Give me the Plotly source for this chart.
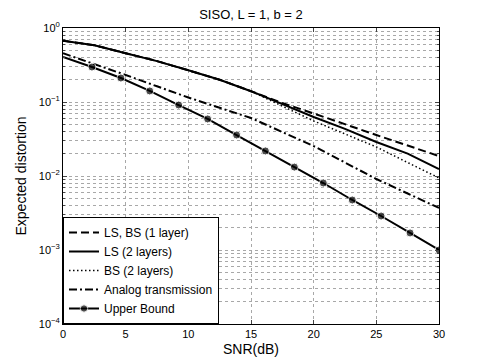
import plotly.graph_objects as go

# SNR grid (dB) used for the layered schemes
snr = [0, 2.5, 5, 7.5, 10, 12.5, 15, 17.5, 20, 22.5, 25, 27.5, 30]
ls_bs_1layer = [0.673, 0.585, 0.457, 0.357, 0.268, 0.200, 0.140, 0.0969, 0.0700, 0.0497, 0.0358, 0.0258, 0.0186]
ls_2layers = [0.673, 0.585, 0.457, 0.357, 0.268, 0.200, 0.140, 0.0940, 0.0627, 0.0434, 0.0288, 0.0201, 0.0124]
bs_2layers = [0.673, 0.585, 0.457, 0.357, 0.268, 0.200, 0.140, 0.0883, 0.0554, 0.0370, 0.0247, 0.0152, 0.0094]
analog = [0.455, 0.326, 0.232, 0.163, 0.115, 0.0835, 0.0608, 0.0393, 0.0254, 0.0152, 0.0091, 0.0058, 0.0037]

# Upper bound (marked curve)
snr_ub = [0, 2.31, 4.62, 6.92, 9.23, 11.54, 13.85, 16.15, 18.46, 20.77, 23.08, 25.38, 27.69, 30]
upper_bound = [0.405, 0.297, 0.211, 0.141, 0.091, 0.059, 0.0358, 0.0218, 0.0132, 0.00804, 0.00474, 0.00288, 0.00170, 0.00100]

x_ticks = [0, 5, 10, 15, 20, 25, 30]
y_ticks = [1e-4, 1e-3, 1e-2, 1e-1, 1]
y_labels = ['10<sup>−4</sup>', '10<sup>−3</sup>', '10<sup>−2</sup>', '10<sup>−1</sup>', '10<sup>0</sup>']

FONT = 'Liberation Sans, Arial, sans-serif'

fig = go.Figure()
fig.add_trace(go.Scatter(x=snr, y=ls_bs_1layer, mode='lines', name='LS, BS (1 layer)',
                         line=dict(color='black', width=2, dash='8px,4px')))
fig.add_trace(go.Scatter(x=snr, y=ls_2layers, mode='lines', name='LS (2 layers)',
                         line=dict(color='black', width=2)))
fig.add_trace(go.Scatter(x=snr, y=bs_2layers, mode='lines', name='BS (2 layers)',
                         line=dict(color='black', width=1.5, dash='1.5px,2.5px')))
fig.add_trace(go.Scatter(x=snr, y=analog, mode='lines', name='Analog transmission',
                         line=dict(color='black', width=2, dash='8px,3px,2px,3px')))
fig.add_trace(go.Scatter(x=snr_ub, y=upper_bound, mode='lines+markers', name='Upper Bound',
                         line=dict(color='black', width=2),
                         marker=dict(color='black', size=[0] + [8] * (len(snr_ub) - 1))))

grid_col = '#a8a8a8'
fig.update_xaxes(range=[0, 30], tickvals=x_ticks, ticks='inside', ticklen=4,
                 showline=True, linecolor='black', linewidth=1, mirror='ticks',
                 showgrid=True, gridcolor=grid_col, griddash='dot', gridwidth=1,
                 zeroline=False, automargin=False,
                 title=dict(text='SNR(dB)', standoff=4),
                 tickfont=dict(size=11))
fig.update_yaxes(type='log', range=[-4, 0], tickvals=y_ticks, ticktext=y_labels,
                 ticks='inside', ticklen=4,
                 showline=True, linecolor='black', linewidth=1, mirror='ticks',
                 showgrid=True, gridcolor=grid_col, griddash='dot', gridwidth=1,
                 minor=dict(dtick='D1', ticks='inside', ticklen=2, showgrid=True,
                            gridcolor=grid_col, griddash='dot', gridwidth=1),
                 zeroline=False, automargin=False,
                 title=dict(text='Expected distortion', standoff=8),
                 tickfont=dict(size=11))

# the page body adds an 8px offset, so the figure is sized a bit smaller
fig.update_layout(
    width=477, height=356,
    margin=dict(l=55, r=46, t=20, b=40),
    paper_bgcolor='white', plot_bgcolor='white',
    font=dict(family=FONT, size=12, color='black'),
    title=dict(text='SISO, L = 1, b = 2', x=0.5, xref='paper', xanchor='center',
               y=0.982, yref='container', yanchor='middle',
               font=dict(size=13)),
    legend=dict(x=0, y=0, xanchor='left', yanchor='bottom', bgcolor='white',
                bordercolor='black', borderwidth=1, font=dict(size=12),
                tracegroupgap=0, itemwidth=30),
    showlegend=True,
)

fig.write_html('out.html')
